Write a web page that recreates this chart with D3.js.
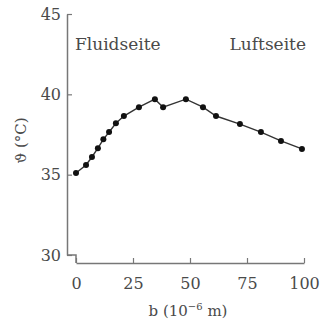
<!DOCTYPE html>
<html>
<head>
<meta charset="utf-8">
<script src="https://cdn.jsdelivr.net/npm/d3@7"></script>
<style>
  body { margin: 0; background: #fff; }
  text { font-family: "DejaVu Serif", serif; fill: #4a4a4a; }
</style>
</head>
<body>
<div id="chart"></div>
<script>
// data
const thickness = [0, 4.4, 7, 9.6, 12, 14.5, 17.5, 21, 27.6, 34.6, 38.2, 48.2, 55.7, 61.4, 71.9, 81.1, 89.9, 99.1];
const temperature = [35.1, 35.6, 36.1, 36.65, 37.2, 37.65, 38.2, 38.65, 39.2, 39.7, 39.2, 39.7, 39.2, 38.65, 38.15, 37.65, 37.1, 36.6];
const xTicks = [0, 25, 50, 75, 100];
const yTicks = [30, 35, 40, 45];
const sideLabels = ["Fluidseite", "Luftseite"];

const width = 321, height = 324;

const points = thickness.map((b, i) => ({ b, t: temperature[i] }));

const svg = d3.select("#chart")
  .append("svg")
  .attr("width", width)
  .attr("height", height);

const x = d3.scaleLinear().domain([0, 100]).range([76, 304]);
const y = d3.scaleLinear().domain([30, 45]).range([255, 14]);

const axisColor = "#777";

// y axis (offset from x axis, ticks inward)
const yAxis = svg.append("g")
  .attr("transform", "translate(67,0)")
  .call(d3.axisRight(y).tickValues(yTicks).tickSize(5).tickSizeOuter(0));
yAxis.select(".domain").attr("stroke", axisColor).attr("stroke-width", 1.5);
yAxis.selectAll(".tick line").attr("stroke", axisColor).attr("stroke-width", 1.2);
yAxis.selectAll(".tick text")
  .attr("x", -6)
  .attr("text-anchor", "end")
  .attr("font-size", 16);

// x axis
const xAxis = svg.append("g")
  .attr("transform", "translate(0,263)")
  .call(d3.axisTop(x).tickValues(xTicks).tickSize(5).tickSizeOuter(0));
xAxis.select(".domain").attr("stroke", axisColor).attr("stroke-width", 1.5);
xAxis.selectAll(".tick line").attr("stroke", axisColor).attr("stroke-width", 1.2);
xAxis.selectAll(".tick text")
  .attr("y", 26)
  .attr("font-size", 16);

// little step joining the two axes
svg.append("path")
  .attr("d", `M67,${y(30)} H${x(0)} V263`)
  .attr("fill", "none")
  .attr("stroke", axisColor)
  .attr("stroke-width", 1.5);

// axis titles
svg.append("text")
  .attr("transform", `translate(26,${(y(30) + y(45)) / 2 + 6}) rotate(-90)`)
  .attr("text-anchor", "middle")
  .attr("font-size", 15)
  .text("ϑ (°C)");

const xl = svg.append("text")
  .attr("x", 188)
  .attr("y", 316)
  .attr("text-anchor", "middle")
  .attr("font-size", 15);
xl.append("tspan").text("b (10");
xl.append("tspan").attr("font-size", 10).attr("dy", -6).text("−6");
xl.append("tspan").attr("dy", 6).text(" m)");

// side labels
svg.append("text").attr("x", 75).attr("y", 50).attr("font-size", 17).text(sideLabels[0]);
svg.append("text").attr("x", 306).attr("y", 50).attr("text-anchor", "end").attr("font-size", 17).text(sideLabels[1]);

// line + markers
const line = d3.line().x(d => x(d.b)).y(d => y(d.t));
svg.append("path")
  .datum(points)
  .attr("d", line)
  .attr("fill", "none")
  .attr("stroke", "#333")
  .attr("stroke-width", 1.4);

svg.selectAll("circle")
  .data(points)
  .join("circle")
  .attr("cx", d => x(d.b))
  .attr("cy", d => y(d.t))
  .attr("r", 3)
  .attr("fill", "#111");
</script>
</body>
</html>
